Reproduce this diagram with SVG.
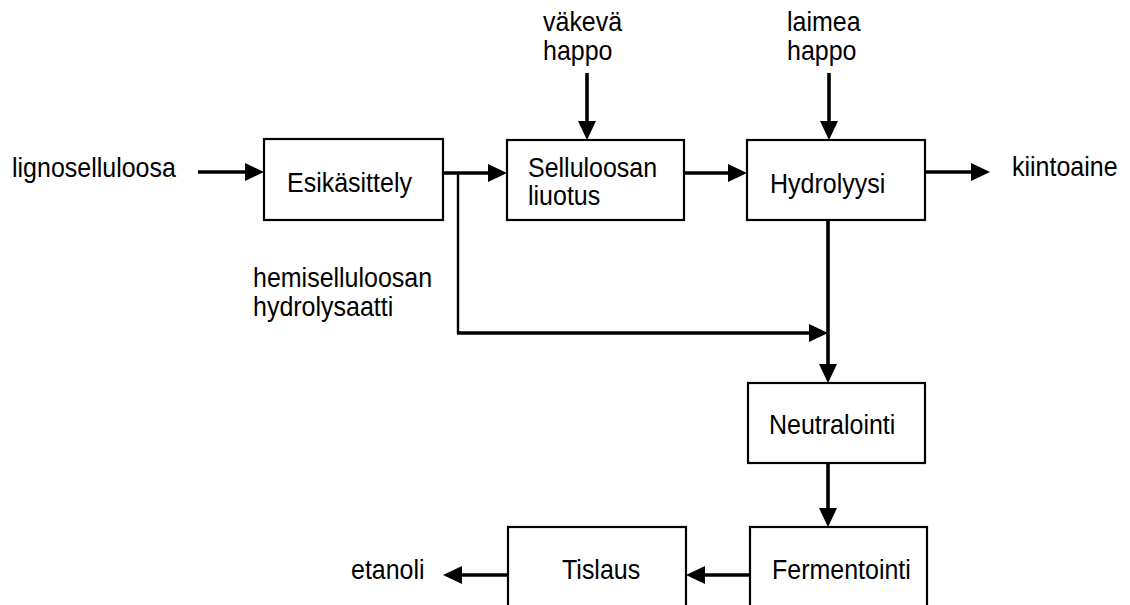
<svg xmlns="http://www.w3.org/2000/svg" width="1130" height="605" viewBox="0 0 1130 605">
<style>
.box{fill:#fff;stroke:#000;stroke-width:2.2}
.t{font-family:"Liberation Sans",Arial,sans-serif;font-size:25px;fill:#000}
.c{fill:none;stroke:#000;stroke-width:3.6}
.thin{fill:none;stroke:#000;stroke-width:2.4}
</style>
<defs>
<marker id="ah" markerUnits="userSpaceOnUse" markerWidth="19" markerHeight="18" refX="8" refY="9" orient="auto" viewBox="0 0 19 18">
<path d="M0,0 L19,9 L0,18 z" fill="#000"/>
</marker>
</defs>
<rect width="1130" height="605" fill="#fff"/>
<g id="connectors">
<line class="c" x1="198" y1="172" x2="253" y2="172" marker-end="url(#ah)"/>
<line class="c" x1="443" y1="173" x2="496" y2="173" marker-end="url(#ah)"/>
<line class="thin" x1="458" y1="173" x2="458" y2="334"/>
<line class="c" x1="457" y1="333" x2="817" y2="333" marker-end="url(#ah)"/>
<line class="c" x1="587" y1="73" x2="587" y2="129" marker-end="url(#ah)"/>
<line class="c" x1="829" y1="73" x2="829" y2="129" marker-end="url(#ah)"/>
<line class="c" x1="684" y1="173" x2="736" y2="173" marker-end="url(#ah)"/>
<line class="c" x1="925" y1="172" x2="979" y2="172" marker-end="url(#ah)"/>
<line class="c" x1="828" y1="220" x2="828" y2="372" marker-end="url(#ah)"/>
<line class="c" x1="828" y1="463" x2="828" y2="516" marker-end="url(#ah)"/>
<line class="c" x1="751" y1="575" x2="697" y2="575" marker-end="url(#ah)"/>
<line class="c" x1="508" y1="575" x2="454" y2="575" marker-end="url(#ah)"/>
</g>
<g id="n-esikasittely">
<rect class="box" x="264" y="139" width="179" height="81"/>
<text class="t" transform="translate(287 192) scale(1 1.09)">Esikäsittely</text>
</g>
<g id="n-selluloosan">
<rect class="box" x="507" y="140" width="177" height="80"/>
<text class="t" transform="translate(528 177) scale(1 1.09)">Selluloosan</text>
<text class="t" transform="translate(528 205) scale(1 1.09)">liuotus</text>
</g>
<g id="n-hydrolyysi">
<rect class="box" x="747" y="140" width="178" height="80"/>
<text class="t" transform="translate(770 193) scale(1 1.09)">Hydrolyysi</text>
</g>
<g id="n-neutralointi">
<rect class="box" x="748" y="383" width="177" height="80"/>
<text class="t" transform="translate(769 434) scale(1 1.09)">Neutralointi</text>
</g>
<g id="n-fermentointi">
<rect class="box" x="750" y="527" width="177" height="95"/>
<text class="t" transform="translate(772 579) scale(1 1.09)">Fermentointi</text>
</g>
<g id="n-tislaus">
<rect class="box" x="508" y="527" width="178" height="95"/>
<text class="t" transform="translate(562 579) scale(1 1.09)">Tislaus</text>
</g>
<g id="labels">
<text class="t" transform="translate(12 177) scale(1 1.09)">lignoselluloosa</text>
<text class="t" transform="translate(543 31) scale(1 1.09)">väkevä</text>
<text class="t" transform="translate(543 60) scale(1 1.09)">happo</text>
<text class="t" transform="translate(787 31) scale(1 1.09)">laimea</text>
<text class="t" transform="translate(787 60) scale(1 1.09)">happo</text>
<text class="t" transform="translate(1012 176) scale(1 1.09)">kiintoaine</text>
<text class="t" transform="translate(253 287) scale(1 1.09)">hemiselluloosan</text>
<text class="t" transform="translate(253 316) scale(1 1.09)">hydrolysaatti</text>
<text class="t" transform="translate(351 579) scale(1 1.09)">etanoli</text>
</g>
</svg>
